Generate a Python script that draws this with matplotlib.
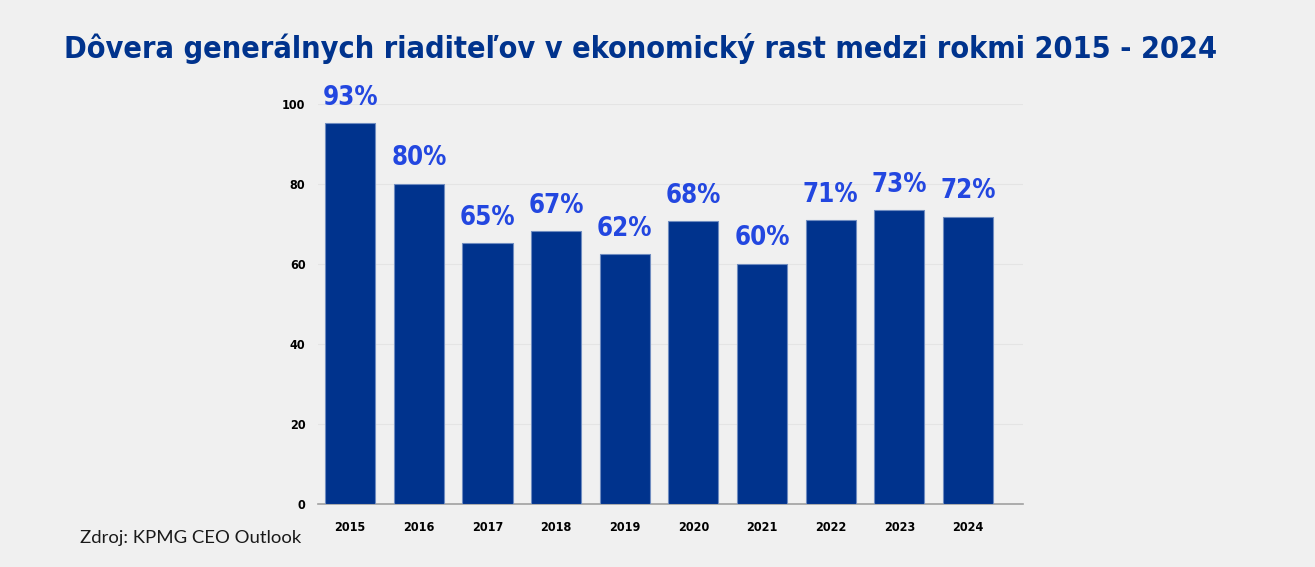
import matplotlib.pyplot as plt

years = ['2015', '2016', '2017', '2018', '2019', '2020', '2021', '2022', '2023', '2024']
bar_heights = [95.2, 80.1, 65.2, 68.2, 62.4, 70.7, 60.0, 70.9, 73.4, 71.8]
labels = ['93%', '80%', '65%', '67%', '62%', '68%', '60%', '71%', '73%', '72%']

bg = '#F0F0F0'
navy = '#00338D'
bright = '#2347E0'
cond = dict(family=['DejaVu Sans'], stretch='condensed')

fig = plt.figure(figsize=(13.15, 5.67), dpi=100, facecolor=bg)
ax = fig.add_axes([0.2418, 0.1111, 0.536, 0.7055], facecolor=bg)

x = range(len(years))
ax.bar(x, bar_heights, width=0.73, color=navy, edgecolor='#6F8CC0', linewidth=0.8, zorder=3)

for i, (h, lab) in enumerate(zip(bar_heights, labels)):
    ax.annotate(lab, (i, h), xytext=(0, 9), textcoords='offset points',
                ha='center', va='bottom', color=bright, fontsize=18.5,
                fontweight='bold', annotation_clip=False, **cond)

ax.set_xlim(-0.47, 9.8)
ax.set_ylim(0, 100)
ax.set_yticks([0, 20, 40, 60, 80, 100])
ax.set_xticks(list(x))
ax.set_xticklabels(years)
ax.tick_params(axis='x', length=0, pad=12)
ax.tick_params(axis='y', length=0, pad=9)
for t in ax.get_xticklabels() + ax.get_yticklabels():
    t.set_family(cond['family'])
    t.set_fontstretch('condensed')
    t.set_fontweight('bold')
    t.set_fontsize(9)
ax.grid(axis='y', color='#E4E4E4', linewidth=0.8, zorder=0)
for s in ['top', 'right', 'left']:
    ax.spines[s].set_visible(False)
ax.spines['bottom'].set_color('#A0A0A0')
ax.spines['bottom'].set_linewidth(1.2)

fig.text(0.487, 0.915, 'Dôvera generálnych riaditeľov v ekonomický rast medzi rokmi 2015 - 2024',
         ha='center', va='center', color=navy, fontsize=22, fontweight='bold', **cond)
fig.text(0.061, 0.052, 'Zdroj: KPMG CEO Outlook', ha='left', va='center',
         fontsize=13.3, family=['Lato', 'DejaVu Sans'], color='#1A1A1A')

fig.savefig('out.png', dpi=100, facecolor=bg)
